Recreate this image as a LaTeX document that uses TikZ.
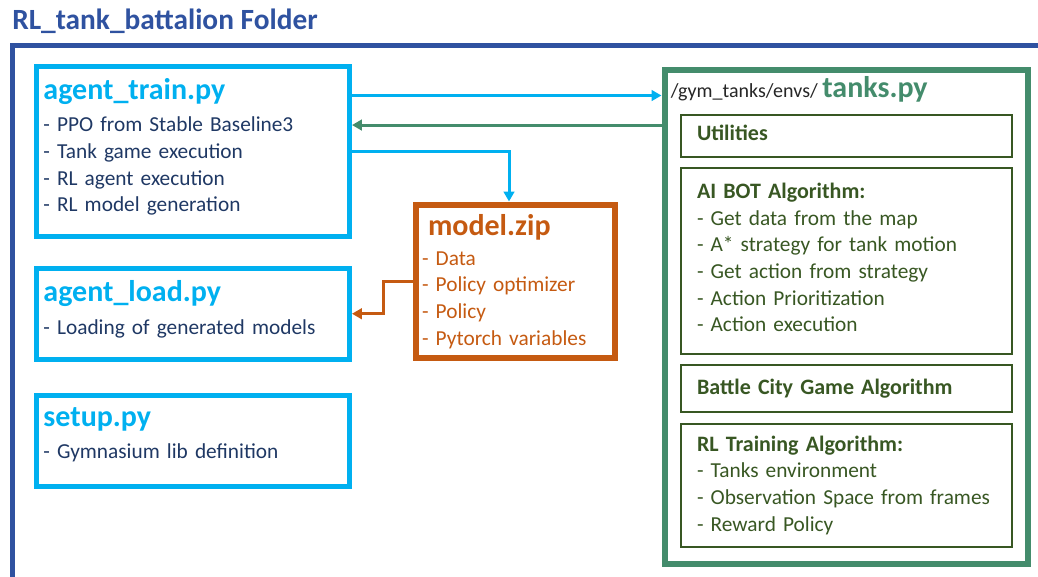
\documentclass[tikz,border=0pt]{standalone}
\usepackage{fontspec}
\setmainfont{Carlito}
\usepackage{tikz}
\usetikzlibrary{arrows.meta,positioning}
\definecolor{folderblue}{HTML}{2F52A0}
\definecolor{pycyan}{HTML}{00B0F0}
\definecolor{navytext}{HTML}{1F3864}
\definecolor{zipbrown}{HTML}{C55A11}
\definecolor{envgreen}{HTML}{448C6C}
\definecolor{algogreen}{HTML}{385723}
\newcommand{\bodyfont}{\fontsize{16}{20}\selectfont}
\newcommand{\filettl}{\fontsize{22.5}{25}\selectfont\bfseries}
\newcommand{\algottl}{\fontsize{16.5}{20}\selectfont\bfseries}
\newcommand{\padbelow}[1]{\rule[-#1]{0pt}{0pt}}
\tikzset{
  pybox/.style={rectangle, draw=pycyan, line width=3.75pt, anchor=north west,
    minimum width=235.1pt, minimum height=#1, text width=223.9pt,
    align=left, inner sep=0pt, text=navytext, font=\bodyfont},
  zipbox/.style={rectangle, draw=zipbrown, line width=4.5pt, anchor=north west,
    minimum width=149.25pt, minimum height=115.1pt, text width=139.5pt,
    align=left, inner sep=0pt, text=zipbrown, font=\bodyfont},
  envbox/.style={rectangle, draw=envgreen, line width=4.5pt, anchor=north west,
    minimum width=272.6pt, minimum height=370.9pt, inner sep=0pt},
  algobox/.style={rectangle, draw=algogreen, line width=1.5pt,
    minimum width=248.25pt, minimum height=#1, text width=224.25pt,
    align=left, inner sep=0pt, text=algogreen, font=\bodyfont},
  pyflow/.style={-{Triangle[length=7.5pt,width=8pt]}, line width=2.25pt, draw=pycyan},
  envflow/.style={-{Triangle[length=7.5pt,width=8pt]}, line width=2.25pt, draw=envgreen},
  zipflow/.style={-{Triangle[length=7.5pt,width=8pt]}, line width=2.25pt, draw=zipbrown},
}

\begin{document}
\begin{tikzpicture}[x=0.75pt, y=-0.75pt, node distance=7pt]
    \useasboundingbox (0,0) rectangle (1038,576);

    % folder frame, open to the right and below
    \draw[folderblue, line width=3.75pt] (12.5,600) |- (1060,45.5);
    \node[anchor=base west, inner sep=0pt, text=folderblue,
      font=\fontsize{22}{24}\selectfont\bfseries] (folder) at (12,29) {RL\_tank\_battalion Folder};

    % python files
    \node[pybox=127.9pt] (train) at (33.5,63.5) {{\color{pycyan}\filettl agent\_train.py}\\[4.5pt]
      - PPO from Stable Baseline3\\ - Tank game execution\\ - RL agent execution\\ - RL model generation\padbelow{9.2pt}};
    \node[pybox=68.6pt] (load) at (33.5,265.5) {{\color{pycyan}\filettl agent\_load.py}\\[4.5pt]
      - Loading of generated models\padbelow{9.2pt}};
    \node[pybox=68.25pt] (setup) at (33.5,393) {{\color{pycyan}\filettl setup.py}\\[4.5pt]
      - Gymnasium lib definition\padbelow{12.2pt}};

    \node[zipbox] (model) at (412.5,201.5) {\hspace{4.5pt}{\filettl model.zip}\\[2.5pt]
      - Data\\ - Policy optimizer\\ - Policy\\ - Pytorch variables};

    % environment
    \node[envbox] (tanks) at (661.5,66.5) {};
    \node[anchor=base west, inner sep=0pt, font=\fontsize{15}{18}\selectfont, text=black!85] (envpath) at (670.5,97)
      {/gym\_tanks/envs/ {\color{envgreen}\filettl tanks.py}};

    \node[algobox=31.5pt, anchor=north west] (util) at (680,113.5) {{\algottl Utilities}\padbelow{4.5pt}};
    \node[algobox=139.5pt, below=of util] (aibot) {{\algottl AI BOT Algorithm:}\\
      - Get data from the map\\ - A* strategy for tank motion\\ - Get action from strategy\\
      - Action Prioritization\\ - Action execution\padbelow{5.25pt}};
    \node[algobox=35.25pt, below=of aibot] (battle) {{\algottl Battle City Game Algorithm}};
    \node[algobox=92.25pt, below=of battle] (rltrain) {{\algottl RL Training Algorithm:}\\
      - Tanks environment\\ - Observation Space from frames\\ - Reward Policy};

    \draw[pyflow] ([yshift=-24pt]train.north east) -- ([yshift=-24pt]train.north east -| tanks.west);
    \draw[envflow] ([yshift=-43.9pt]tanks.north west) -- ([yshift=-43.9pt]tanks.north west -| train.east);
    \draw[pyflow] ([yshift=-66pt]train.north east) -| ([xshift=-4.5pt]model.north);
    \draw[zipflow] (model.west) -- ++(-22pt,0) |- (load.east);
  \end{tikzpicture}
\end{document}
